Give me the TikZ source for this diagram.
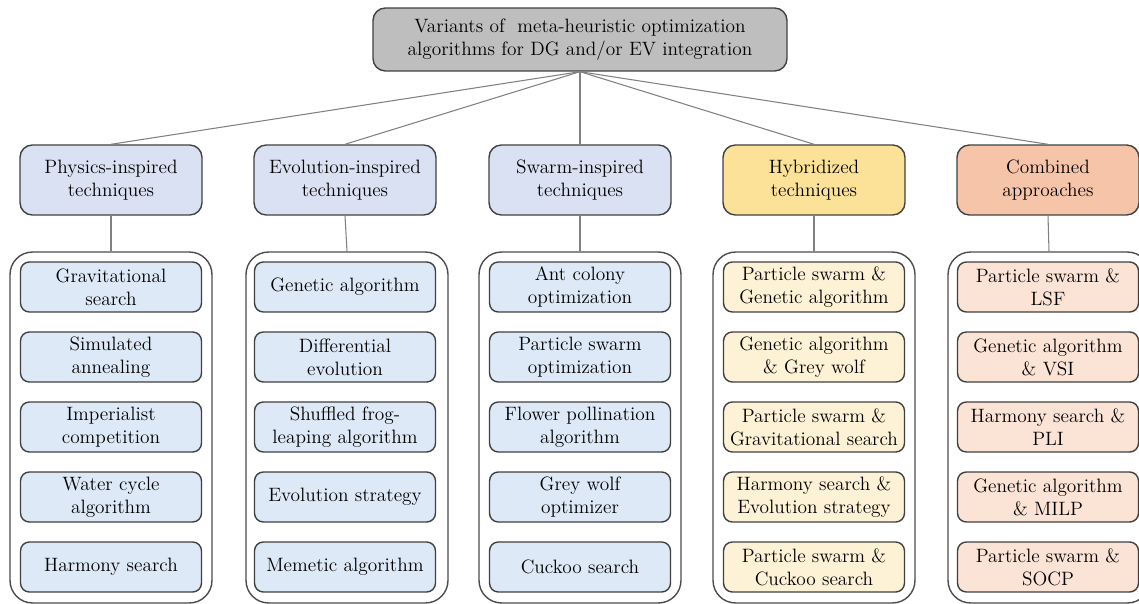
\documentclass[tikz,border=0pt]{standalone}
\usepackage{fontspec}
\definecolor{topgray}{RGB}{190,190,190}
\definecolor{headblue}{RGB}{218,225,242}
\definecolor{itemblue}{RGB}{221,233,246}
\definecolor{headyellow}{RGB}{252,226,152}
\definecolor{itemyellow}{RGB}{254,242,214}
\definecolor{headorange}{RGB}{246,196,168}
\definecolor{itemorange}{RGB}{251,227,214}
\tikzset{
  boxtext/.style={align=center, inner sep=1pt, font=\fontsize{11}{13}\selectfont},
  topbox/.style={boxtext, draw=black!75, line width=0.8pt, fill=topgray, rounded corners=7pt,
    minimum width=8.28cm, minimum height=1.26cm},
  headbox/.style={boxtext, draw=black!75, line width=0.8pt, rounded corners=7pt,
    minimum width=3.64cm, minimum height=1.4cm},
  itembox/.style={boxtext, draw=black!75, line width=0.8pt, rounded corners=5pt,
    minimum width=3.62cm, minimum height=1cm},
  groupbox/.style={draw=black!70, line width=0.8pt, rounded corners=0.45cm,
    minimum width=4.04cm, minimum height=7.02cm},
  link/.style={draw=black!50, line width=0.6pt}
}
\begin{document}
\begin{tikzpicture}[x=0.02cm,y=-0.02cm]
    \useasboundingbox (0,0) rectangle (1139,604);

    \node[topbox] (top) at (580,39.5) {Variants of \ meta-heuristic optimization\\algorithms for DG and/or EV integration};

    \node[headbox,fill=headblue] (phys) at (111,180) {Physics-inspired\\techniques};
    \node[headbox,fill=headblue] (evol) at (345,180) {Evolution-inspired\\techniques};
    \node[headbox,fill=headblue] (swarm) at (580,180) {Swarm-inspired\\techniques};
    \node[headbox,fill=headyellow] (hyb) at (814,180) {Hybridized\\techniques};
    \node[headbox,fill=headorange] (comb) at (1048,180) {Combined\\approaches};

    \draw[link] (top.south) -- (phys.north);
    \draw[link] (top.south) -- (evol.north);
    \draw[link] (top.south) -- (swarm.north);
    \draw[link] (top.south) -- (hyb.north);
    \draw[link] (top.south) -- (comb.north);

    \node[groupbox] (physgrp) at (111,427.5) {};
    \node[groupbox] (evolgrp) at (347,427.5) {};
    \node[groupbox] (swarmgrp) at (580,427.5) {};
    \node[groupbox] (hybgrp) at (814,427.5) {};
    \node[groupbox] (combgrp) at (1049,427.5) {};

    \draw[link] (phys.south) -- (physgrp.north);
    \draw[link] (evol.south) -- (evolgrp.north);
    \draw[link] (swarm.south) -- (swarmgrp.north);
    \draw[link] (hyb.south) -- (hybgrp.north);
    \draw[link] (comb.south) -- (combgrp.north);

    \node[itembox,fill=itemblue] (phys1) at (111,287) {Gravitational\\search};
    \node[itembox,fill=itemblue] (phys2) at (111,357) {Simulated\\annealing};
    \node[itembox,fill=itemblue] (phys3) at (111,427) {Imperialist\\competition};
    \node[itembox,fill=itemblue] (phys4) at (111,497) {Water cycle\\algorithm};
    \node[itembox,fill=itemblue] (phys5) at (111,567) {Harmony search};

    \node[itembox,fill=itemblue] (evol1) at (345,287) {Genetic algorithm};
    \node[itembox,fill=itemblue] (evol2) at (345,357) {Differential\\evolution};
    \node[itembox,fill=itemblue] (evol3) at (345,427) {Shuffled frog-\\leaping algorithm};
    \node[itembox,fill=itemblue] (evol4) at (345,497) {Evolution strategy};
    \node[itembox,fill=itemblue] (evol5) at (345,567) {Memetic algorithm};

    \node[itembox,fill=itemblue] (swarm1) at (580,287) {Ant colony\\optimization};
    \node[itembox,fill=itemblue] (swarm2) at (580,357) {Particle swarm\\optimization};
    \node[itembox,fill=itemblue] (swarm3) at (580,427) {Flower pollination\\algorithm};
    \node[itembox,fill=itemblue] (swarm4) at (580,497) {Grey wolf\\optimizer};
    \node[itembox,fill=itemblue] (swarm5) at (580,567) {Cuckoo search};

    \node[itembox,fill=itemyellow] (hyb1) at (814,287) {Particle swarm \&\\Genetic algorithm};
    \node[itembox,fill=itemyellow] (hyb2) at (814,357) {Genetic algorithm\\\& Grey wolf};
    \node[itembox,fill=itemyellow] (hyb3) at (814,427) {Particle swarm \&\\Gravitational search};
    \node[itembox,fill=itemyellow] (hyb4) at (814,497) {Harmony search \&\\Evolution strategy};
    \node[itembox,fill=itemyellow] (hyb5) at (814,567) {Particle swarm \&\\Cuckoo search};

    \node[itembox,fill=itemorange] (comb1) at (1048,287) {Particle swarm \&\\LSF};
    \node[itembox,fill=itemorange] (comb2) at (1048,357) {Genetic algorithm\\\& VSI};
    \node[itembox,fill=itemorange] (comb3) at (1048,427) {Harmony search \&\\PLI};
    \node[itembox,fill=itemorange] (comb4) at (1048,497) {Genetic algorithm\\\& MILP};
    \node[itembox,fill=itemorange] (comb5) at (1048,567) {Particle swarm \&\\SOCP};
\end{tikzpicture}
\end{document}
